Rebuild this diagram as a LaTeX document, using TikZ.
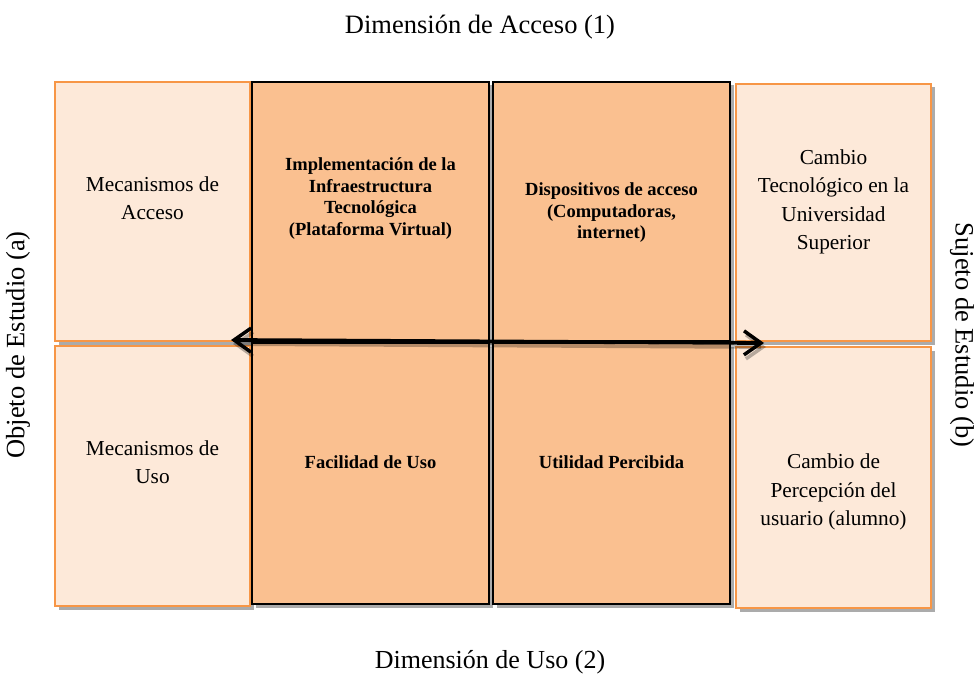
\documentclass[tikz,border=0pt]{standalone}
\usepackage{fontspec}
\setmainfont{Liberation Serif}
\usetikzlibrary{shadows,arrows.meta}
\definecolor{lightpeach}{HTML}{FDE9D9}
\definecolor{darkpeach}{HTML}{FAC090}
\definecolor{orangeline}{HTML}{F79646}
\begin{document}
\begin{tikzpicture}[x=1pt,y=-1pt,
  boxshadow/.style={drop shadow={shadow xshift=3.5pt,shadow yshift=-3.5pt,fill=black,opacity=0.33}},
  outerbox/.style={draw=orangeline,line width=2pt,fill=lightpeach,boxshadow,inner sep=0pt},
  innerbox/.style={draw=black,line width=1.8pt,fill=darkpeach,boxshadow,inner sep=0pt},
  plaintext/.style={align=center,inner sep=0pt,font=\fontsize{21.3}{28.5}\selectfont},
  boldtext/.style={align=center,inner sep=0pt,font=\fontsize{18.5}{21.5}\selectfont\bfseries},
  sidelabel/.style={font=\fontsize{26.5}{30}\selectfont,inner sep=0pt},
  barb/.tip={Straight Barb[length=17pt,width=24pt,line width=3.5pt]},
  biarrow/.style={line width=3.8pt,barb-barb,
    preaction={draw=black,opacity=0.28,line width=3.8pt,transform canvas={xshift=2pt,yshift=-4pt}}}
]
\useasboundingbox (0,0) rectangle (978,674);
\fill[white] (0,0) rectangle (978,674);

% outer boxes
\node[outerbox,minimum width=195pt,minimum height=259pt] (L1) at (152.5,211.5) {};
\node[outerbox,minimum width=195pt,minimum height=260pt] (L2) at (152.5,476) {};
\node[outerbox,minimum width=195pt,minimum height=257pt] (R1) at (833.5,212.5) {};
\node[outerbox,minimum width=195pt,minimum height=261pt] (R2) at (833.5,477.5) {};

% inner boxes
\node[innerbox,minimum width=237pt,minimum height=259pt] (M1) at (370.5,211.5) {};
\node[innerbox,minimum width=237pt,minimum height=261pt] (M2) at (370.5,473.5) {};
\node[innerbox,minimum width=237pt,minimum height=259pt] (N1) at (611.5,211.5) {};
\node[innerbox,minimum width=237pt,minimum height=261pt] (N2) at (611.5,473.5) {};

% texts
\node[plaintext] (tL1) at (L1.center) [yshift=13.5pt] {Mecanismos de\\Acceso};
\node[plaintext] (tL2) at (152.5,462) {Mecanismos de\\Uso};
\node[plaintext] (tR1) at (833.5,202) {Cambio\\Tecnológico en la\\Universidad\\Superior};
\node[plaintext] (tR2) at (833.5,492) {Cambio de\\Percepción del\\usuario (alumno)};
\node[boldtext] (tM1) at (370.5,198.5) {Implementación de la\\Infraestructura\\Tecnológica\\(Plataforma Virtual)};
\node[boldtext] (tM2) at (370.5,462) {Facilidad de Uso};
\node[boldtext] (tN1) at (611.5,213) {Dispositivos de acceso\\(Computadoras,\\internet)};
\node[boldtext] (tN2) at (611.5,462) {Utilidad Percibida};

% side labels
\node[sidelabel] (top) at (480,27) {Dimensión de Acceso (1)};
\node[sidelabel,font=\fontsize{26}{30}\selectfont] (bottom) at (490,662) {Dimensión de Uso (2)};
\node[sidelabel,rotate=90] (left) at (18,345) {Objeto de Estudio (a)};
\node[sidelabel,rotate=-90] (right) at (962,335) {Sujeto de Estudio (b)};

% arrow
\coordinate (aL) at (231,340);
\coordinate (aR) at (764,343);
\draw[biarrow] (aL) -- (aR);
\end{tikzpicture}
\end{document}
